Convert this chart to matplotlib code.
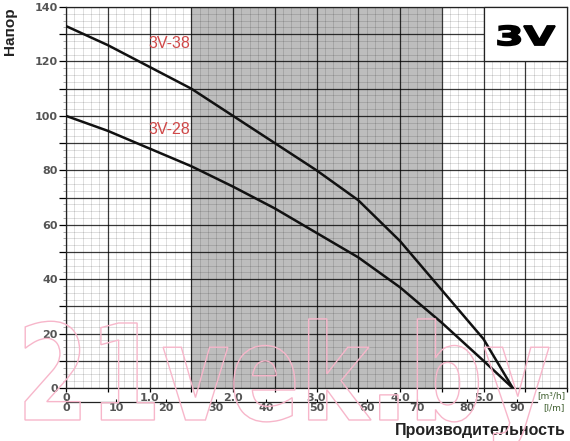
import matplotlib
matplotlib.use("Agg")
import matplotlib.pyplot as plt
from matplotlib.ticker import MultipleLocator, FuncFormatter
from matplotlib.patches import Rectangle, PathPatch
from matplotlib.textpath import TextPath
from matplotlib.font_manager import FontProperties
from matplotlib.transforms import Affine2D

W, H = 570, 441

# pump curves (flow in m3/h, head in m)
flow = [0, 0.5, 1.0, 1.5, 2.0, 2.5, 3.0, 3.5, 4.0, 4.5, 5.0, 5.35]
head_38 = [133, 126, 118, 110, 100, 90, 80, 69, 54, 36, 18, 0]
head_28 = [100, 94.5, 88, 81.5, 74, 66, 57, 48, 37, 24, 10, 0]
curve_names = ["3V-38", "3V-28"]
label_heads = [126.5, 95]

best_range = (1.5, 4.5)
lpm_ticks = [0, 10, 20, 30, 40, 50, 60, 70, 80, 90]

tick_grey = "#555555"
label_red = "#d04848"
unit_green = "#3f5f2f"
wm_pink = "#f7b6ca"


def stretched_text(fig, s, x0, x1, base, cap, weight="bold", **kw):
    # text outline squeezed into a pixel box (image coords, y from top)
    tp = TextPath((0, 0), s, size=100,
                  prop=FontProperties(family="DejaVu Sans", weight=weight))
    ext = tp.get_extents()
    sx = (x1 - x0) / (ext.x1 - ext.x0)
    sy = cap / 72.9
    tr = Affine2D().translate(-ext.x0, 0).scale(sx, sy).translate(x0, H - base)
    fig.add_artist(PathPatch(tp, transform=tr, **kw))


def m3h_label(v, pos):
    if abs(v) < 1e-9:
        return "0"
    if abs(v - round(v)) < 1e-9 and v <= 5.0:
        return f"{v:.1f}"
    return ""


fig = plt.figure(figsize=(W / 100, H / 100), dpi=100)
ax = fig.add_axes([66 / W, 1 - 388 / H, (567 - 66) / W, (388 - 7) / H])

ax.set_xlim(0, 6.0)
ax.set_ylim(0, 140)

ax.axvspan(*best_range, color="#bdbdbd", lw=0, zorder=1)

ax.xaxis.set_major_locator(MultipleLocator(0.5))
ax.xaxis.set_minor_locator(MultipleLocator(0.1))
ax.yaxis.set_major_locator(MultipleLocator(10))
ax.yaxis.set_minor_locator(MultipleLocator(2.5))

ax.grid(which="major", color="black", alpha=0.78, lw=0.9)
ax.grid(which="minor", color="black", alpha=0.18, lw=0.5)

ax.xaxis.set_major_formatter(FuncFormatter(m3h_label))
ax.yaxis.set_major_formatter(FuncFormatter(
    lambda v, p: f"{v:.0f}" if round(v) % 20 == 0 else ""))

ax.tick_params(axis="y", which="major", length=5, width=0.9, pad=1,
               labelsize=8, labelcolor=tick_grey)
ax.tick_params(axis="y", which="minor", length=2, width=0.5, color="#888888")
ax.tick_params(axis="x", which="major", length=3, width=0.9, pad=0.5,
               labelsize=8, labelcolor=tick_grey)
ax.tick_params(axis="x", which="minor", length=0)
for lab in ax.get_xticklabels() + ax.get_yticklabels():
    lab.set_fontweight("bold")

for sp in ax.spines.values():
    sp.set_color("#222222")
    sp.set_linewidth(0.9)

# second flow scale in l/min
sec = ax.secondary_xaxis(-14 / 381, functions=(lambda q: q * 1000 / 60,
                                               lambda l: l * 60 / 1000))
sec.set_xticks(lpm_ticks)
sec.tick_params(length=2, direction="in", pad=1, labelsize=8,
                labelcolor=tick_grey, width=0.8)
for lab in sec.get_xticklabels():
    lab.set_fontweight("bold")
sec.spines["bottom"].set_bounds(0, 94)
sec.spines["bottom"].set_linewidth(0.9)
sec.spines["bottom"].set_color("#222222")

ax.plot(flow, head_38, color="#111111", lw=1.8, zorder=4, solid_capstyle="round")
ax.plot(flow, head_28, color="#111111", lw=1.8, zorder=4, solid_capstyle="round")

for name, h in zip(curve_names, label_heads):
    ax.text(best_range[0] - 0.01, h, name, ha="right", va="center",
            fontsize=11.5, color=label_red, family="Liberation Sans", zorder=5)

# model badge
ax.add_patch(Rectangle((5.0, 120), 1.0, 20, facecolor="white",
                       edgecolor="#222222", lw=0.9, zorder=3, clip_on=False))
stretched_text(fig, "3V", 498, 555, 45, 19, facecolor="black",
               edgecolor="black", lw=1.3, zorder=6)

fig.text(565 / W, 1 - 396 / H, "[m³/h]", ha="right", va="center",
         fontsize=6.5, color=unit_green, family="DejaVu Sans")
fig.text(565 / W, 1 - 408 / H, "[l/m]", ha="right", va="center",
         fontsize=6.5, color=unit_green, family="DejaVu Sans")

fig.text(10 / W, 1 - 31 / H, "Напор", rotation=90, ha="center", va="center",
         fontsize=11, fontweight="bold", color="#222222", family="Liberation Sans")
fig.text(566 / W, 1 - 430 / H, "Производительность", ha="right", va="center",
         fontsize=11.5, fontweight="bold", color="#222222", family="Liberation Sans")

# watermark
stretched_text(fig, "21vek.by", 25, 549, 420, 97, facecolor="none",
               edgecolor=wm_pink, lw=1.0, zorder=10)

fig.savefig("out.png", dpi=100)
